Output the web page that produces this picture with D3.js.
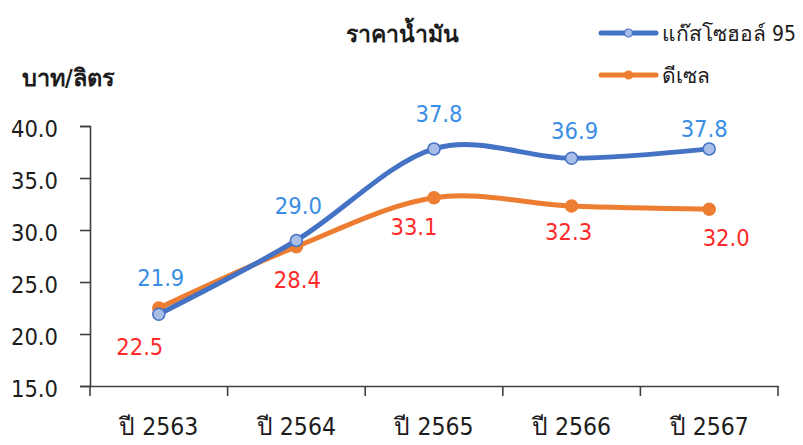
<!DOCTYPE html>
<html>
<head>
<meta charset="utf-8">
<script src="https://cdn.jsdelivr.net/npm/d3@7"></script>
<style>
  html, body { margin: 0; padding: 0; background: #fff; }
  svg text { font-family: Tahoma, "DejaVu Sans Condensed", "Noto Sans", sans-serif; }
</style>
</head>
<body>
<svg id="chart" width="803" height="445"></svg>
<script>
  // ข้อมูลราคาน้ำมันเฉลี่ย (บาท/ลิตร)
  var years = ["ปี 2563", "ปี 2564", "ปี 2565", "ปี 2566", "ปี 2567"];
  var gasohol95 = [21.9, 29.0, 37.8, 36.9, 37.8];
  var diesel = [22.5, 28.4, 33.1, 32.3, 32.0];
  var yTicks = [15, 20, 25, 30, 35, 40];

  var seriesNames = ["แก๊สโซฮอล์ 95", "ดีเซล"];

  // ตำแหน่ง label ที่ถูกขยับเอง (px จากจุด)
  var blueNudge = [[2, -37], [2, -35], [5, -35], [3, -28], [-5, -20]];
  var orangeNudge = [[-19, 39], [1, 33], [-20, 29], [-3, 25], [17, 28]];

  var svg = d3.select("#chart");

  var x = d3.scaleBand()
    .domain(years)
    .range([90, 778]);

  var y = d3.scaleLinear()
    .domain([15, 40])
    .range([386, 126]);

  var axisColor = "#404040";

  // แกน y
  var yAxis = svg.append("g")
    .attr("transform", "translate(90,0)")
    .call(d3.axisLeft(y)
      .tickValues(yTicks)
      .tickSize(10)
      .tickPadding(22)
      .tickFormat(d3.format(".1f")));
  yAxis.select(".domain").attr("stroke", axisColor).attr("stroke-width", 1.6);
  yAxis.selectAll(".tick line").attr("stroke", axisColor).attr("stroke-width", 1.6);
  yAxis.selectAll(".tick text")
    .attr("font-size", 23.5)
    .attr("fill", "#1c1c1c")
    .attr("dy", "0.45em");

  // แกน x
  var xAxis = svg.append("g")
    .attr("transform", "translate(0,386)")
    .call(d3.axisBottom(x).tickSize(0).tickSizeOuter(0).tickPadding(38));
  xAxis.select(".domain").attr("stroke", axisColor).attr("stroke-width", 1.6);
  xAxis.selectAll(".tick text")
    .attr("font-size", 24.5)
    .attr("fill", "#1c1c1c")
    .attr("dy", "0.45em");

  var bounds = d3.range(years.length + 1).map(function (i) {
    return x.range()[0] + i * x.step();
  });
  xAxis.selectAll(".bound")
    .data(bounds)
    .enter()
    .append("line")
    .attr("class", "bound")
    .attr("x1", function (d) { return d; })
    .attr("x2", function (d) { return d; })
    .attr("y1", 0)
    .attr("y2", 10)
    .attr("stroke", axisColor)
    .attr("stroke-width", 1.6);

  function cx(i) {
    return x(years[i]) + x.bandwidth() / 2;
  }

  var line = d3.line()
    .x(function (d, i) { return cx(i); })
    .y(function (d) { return y(d); })
    .curve(d3.curveCardinal.tension(0));

  function drawSeries(values, color, markerFill, markerR, labelColor, nudge) {
    var g = svg.append("g");
    g.append("path")
      .datum(values)
      .attr("d", line)
      .attr("fill", "none")
      .attr("stroke", color)
      .attr("stroke-width", 5)
      .attr("stroke-linecap", "round");

    g.selectAll("circle")
      .data(values)
      .enter()
      .append("circle")
      .attr("cx", function (d, i) { return cx(i); })
      .attr("cy", function (d) { return y(d); })
      .attr("r", markerR)
      .attr("fill", markerFill)
      .attr("stroke", color)
      .attr("stroke-width", 1.5);

    g.selectAll("text")
      .data(values)
      .enter()
      .append("text")
      .attr("x", function (d, i) { return cx(i) + nudge[i][0]; })
      .attr("y", function (d, i) { return y(d) + nudge[i][1]; })
      .attr("dy", "0.36em")
      .attr("text-anchor", "middle")
      .attr("font-size", 23.5)
      .attr("fill", labelColor)
      .text(function (d) { return d.toFixed(1); });
  }

  drawSeries(diesel, "#ED7D31", "#ED7D31", 6, "#FF2B2B", orangeNudge);
  drawSeries(gasohol95, "#4472C4", "#A9BEE6", 6, "#3A8EE6", blueNudge);

  // ชื่อกราฟและหน่วย
  svg.append("text")
    .attr("x", 402)
    .attr("y", 42)
    .attr("text-anchor", "middle")
    .attr("font-size", 23)
    .attr("font-weight", "bold")
    .attr("fill", "#1c1c1c")
    .text("ราคาน้ำมัน");

  svg.append("text")
    .attr("x", 22)
    .attr("y", 86)
    .attr("font-size", 23.5)
    .attr("font-weight", "bold")
    .attr("fill", "#1c1c1c")
    .text("บาท/ลิตร");

  // legend
  var legendColors = ["#4472C4", "#ED7D31"];
  var legendFill = ["#A9BEE6", "#ED7D31"];
  var legend = svg.append("g")
    .selectAll("g")
    .data(seriesNames)
    .enter()
    .append("g")
    .attr("transform", function (d, i) { return "translate(601," + (33 + i * 42) + ")"; });

  legend.append("line")
    .attr("x1", 0).attr("x2", 55)
    .attr("y1", 0).attr("y2", 0)
    .attr("stroke", function (d, i) { return legendColors[i]; })
    .attr("stroke-width", 5)
    .attr("stroke-linecap", "round");

  legend.append("circle")
    .attr("cx", 27.5)
    .attr("cy", 0)
    .attr("r", 4)
    .attr("fill", function (d, i) { return legendFill[i]; })
    .attr("stroke", function (d, i) { return legendColors[i]; })
    .attr("stroke-width", 1.2);

  legend.append("text")
    .attr("x", 61)
    .attr("dy", "0.36em")
    .attr("font-size", 21)
    .attr("fill", "#1c1c1c")
    .text(function (d) { return d; });
</script>
</body>
</html>
